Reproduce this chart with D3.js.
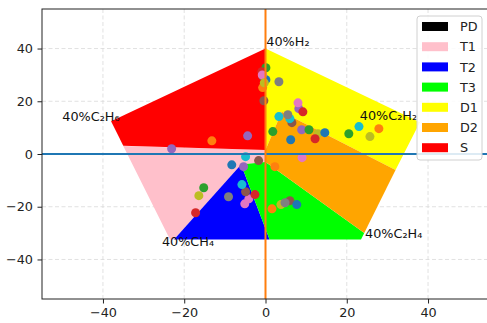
<!DOCTYPE html>
<html>
<head>
<meta charset="utf-8">
<script src="https://cdn.jsdelivr.net/npm/d3@7"></script>
<style>
  body { margin: 0; background: #fff; }
  svg { display: block; font-family: "DejaVu Sans", sans-serif; }
</style>
</head>
<body>
<svg id="chart"></svg>
<script>
// Duval pentagon zones (vertices in pentagon coordinates)
const zoneNames = ['PD', 'T1', 'T2', 'T3', 'D1', 'D2', 'S'];
const zoneColors = ['black', 'pink', 'blue', 'lime', 'yellow', 'orange', 'red'];
const zonePD = [[0, 33], [-1, 33], [-1, 24.5], [0, 24.5]];
const zoneT1 = [[-6, -4], [-22.5, -32.4], [-23.5, -32.4], [-35, 3], [0, 1.5], [0, -3]];
const zoneT2 = [[-6, -4], [1, -32.4], [-22.5, -32.4]];
const zoneT3 = [[0, -3], [24.3, -30], [23.5, -32.4], [1, -32.4], [-6, -4]];
const zoneD1 = [[0, 40], [38, 12], [32, -6.1], [4, 16], [0, 1.5]];
const zoneD2 = [[4, 16], [32, -6.1], [24.3, -30], [0, -3], [0, 1.5]];
const zoneS = [[0, 1.5], [-35, 3.1], [-38, 12.4], [0, 40], [0, 24.5]];
const zones = [zonePD, zoneT1, zoneT2, zoneT3, zoneD1, zoneD2, zoneS];

// corner labels
const labelText = ['40%H₂', '40%C₂H₂', '40%C₂H₆', '40%CH₄', '40%C₂H₄'];
const labelX = [0.2, 23.2, -50, -25.5, 24.5];
const labelY = [41, 12.8, 12.4, -35, -31.9];

// sample points (plotted one by one, colours follow the default cycle)
const ptX = [
  0.1, -0.9, 8.2, -0.4, 8.0, -0.7, 12.9, 3.3, 0.1, -0.7,
  1.8, 9.2, 8.9, 6.5, 9.0, 3.3, 25.7, 6.0, 14.6, 27.9,
  10.7, 12.2, -4.4, -1.7, -4.1, 5.5, -16.4, 23.0, 6.2, -13.2,
  20.5, -2.6, -23.1, -4.9, -5.1, -9.1, 3.8, -4.9, -8.3, 2.3,
  -15.2, -17.2, -5.4, 6.0, -0.8, 4.8, -0.3, -5.8, 7.7, 1.6
];
const ptY = [
  32.7, 31.2, 17.2, 20.2, 19.4, 29.7, 7.7, 14.2, 28.2, 25.2,
  8.5, 16.0, 9.2, 11.9, -1.4, 27.4, 6.6, 13.4, 8.1, 9.6,
  9.2, 5.8, 6.9, -2.5, -17.0, 14.9, -15.8, 10.4, 5.4, 5.0,
  7.7, -15.4, 2.0, -14.3, -18.9, -16.2, -19.2, -1.0, -4.1, -4.8,
  -12.8, -22.3, -4.8, -17.7, 30.0, -18.5, 27.0, -11.6, -19.2, -20.8
];

const xTicks = [-40, -20, 0, 20, 40];
const yTicks = [-40, -20, 0, 20, 40];

const width = 487;
const height = 323;
const margin = { top: 9, right: -2, bottom: 24, left: 42 };
const fontSize = 12.8;

const svg = d3.select('#chart')
  .attr('width', width)
  .attr('height', height)
  .attr('viewBox', `0 0 ${width} ${height}`);

const x = d3.scaleLinear().domain([-55, 55]).range([margin.left, width - margin.right]);
const y = d3.scaleLinear().domain([-55, 55]).range([height - margin.bottom, margin.top]);

const plotW = x.range()[1] - x.range()[0];
const plotH = y.range()[0] - y.range()[1];

svg.append('defs').append('clipPath').attr('id', 'clip')
  .append('rect')
  .attr('x', margin.left).attr('y', margin.top)
  .attr('width', plotW).attr('height', plotH);

// grid
const grid = svg.append('g').attr('stroke', '#d9d9d9').attr('stroke-dasharray', '4,2.5').attr('stroke-width', 0.8);
grid.selectAll('.gx').data(xTicks).join('line')
  .attr('x1', (d) => x(d)).attr('x2', (d) => x(d))
  .attr('y1', y.range()[1]).attr('y2', y.range()[0]);
grid.selectAll('.gy').data(yTicks).join('line')
  .attr('y1', (d) => y(d)).attr('y2', (d) => y(d))
  .attr('x1', x.range()[0]).attr('x2', x.range()[1]);

const plot = svg.append('g').attr('clip-path', 'url(#clip)');

// zones
const line = d3.line().x((d) => x(d[0])).y((d) => y(d[1]));
plot.selectAll('.zone').data(zones).join('path')
  .attr('class', 'zone')
  .attr('d', (d) => `${line(d)}Z`)
  .attr('fill', (d, i) => zoneColors[i]);

// points
plot.selectAll('.pt').data(ptX).join('circle')
  .attr('cx', (d) => x(d))
  .attr('cy', (d, i) => y(ptY[i]))
  .attr('r', 4.5)
  .attr('fill', (d, i) => d3.schemeCategory10[(i + 2) % 10]);

// reference lines through origin
plot.append('line')
  .attr('x1', x.range()[0]).attr('x2', x.range()[1])
  .attr('y1', y(0)).attr('y2', y(0))
  .attr('stroke', d3.schemeCategory10[0]).attr('stroke-width', 2);
plot.append('line')
  .attr('x1', x(0)).attr('x2', x(0))
  .attr('y1', y.range()[0]).attr('y2', y.range()[1])
  .attr('stroke', d3.schemeCategory10[1]).attr('stroke-width', 2);

// corner labels
plot.selectAll('.lbl').data(labelText).join('text')
  .attr('x', (d, i) => x(labelX[i]))
  .attr('y', (d, i) => y(labelY[i]))
  .attr('font-size', fontSize)
  .attr('fill', '#111')
  .text((d) => d);

// axes
const xAxis = d3.axisBottom(x).tickValues(xTicks).tickSize(4.5).tickSizeOuter(0).tickPadding(4);
const yAxis = d3.axisLeft(y).tickValues(yTicks).tickSize(4.5).tickSizeOuter(0).tickPadding(4.5);

svg.append('g')
  .attr('transform', `translate(0, ${y.range()[0]})`)
  .call(xAxis)
  .call((g) => g.select('.domain').remove());
svg.append('g')
  .attr('transform', `translate(${margin.left}, 0)`)
  .call(yAxis)
  .call((g) => g.select('.domain').remove());
svg.selectAll('.tick text').attr('font-size', fontSize).attr('font-family', 'DejaVu Sans').attr('fill', '#222');
svg.selectAll('.tick line').attr('stroke', '#222');

// frame
svg.append('rect')
  .attr('x', x.range()[0]).attr('y', y.range()[1])
  .attr('width', plotW).attr('height', plotH)
  .attr('fill', 'none').attr('stroke', '#222').attr('stroke-width', 1);

// legend
const lg = svg.append('g').attr('transform', 'translate(417, 16)');
lg.append('rect')
  .attr('width', 65).attr('height', 144).attr('rx', 3)
  .attr('fill', 'white').attr('fill-opacity', 0.85)
  .attr('stroke', '#d0d0d0').attr('stroke-width', 1);
const items = lg.selectAll('.item').data(zoneNames).join('g')
  .attr('transform', (d, i) => `translate(5, ${10.5 + i * 20.2})`);
items.append('rect')
  .attr('x', 0).attr('y', -4.5).attr('width', 26).attr('height', 9)
  .attr('fill', (d, i) => zoneColors[i]);
items.append('text')
  .attr('x', 38).attr('dy', '0.36em')
  .attr('font-size', fontSize).attr('fill', '#222')
  .text((d) => d);
</script>
</body>
</html>
